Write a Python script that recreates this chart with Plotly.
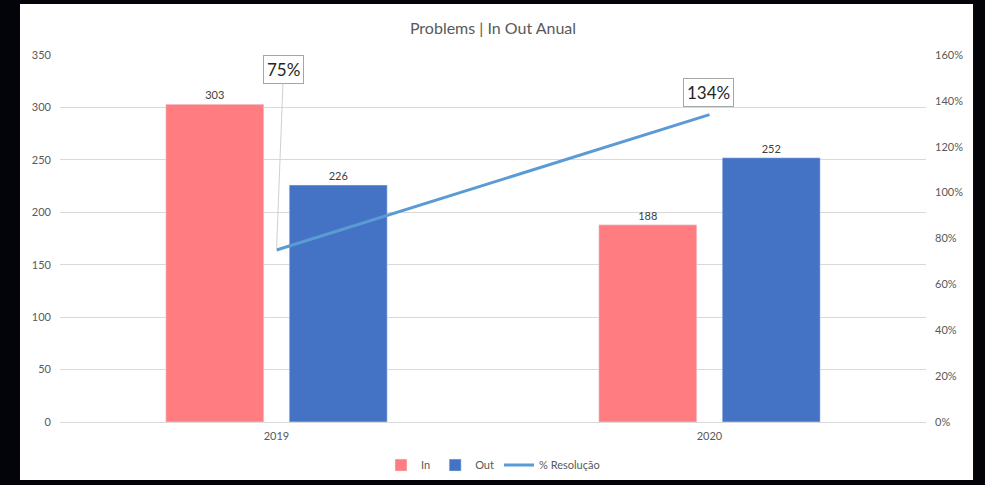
import plotly.graph_objects as go

categories = ["2019", "2020"]
in_values = [303, 188]
out_values = [226, 252]
pct_resolucao = [0.75, 1.34]
pct_labels = ["75%", "134%"]
left_ticks = [0, 50, 100, 150, 200, 250, 300, 350]
right_ticks = [0, 0.2, 0.4, 0.6, 0.8, 1.0, 1.2, 1.4, 1.6]
right_tick_labels = ["0%", "20%", "40%", "60%", "80%", "100%", "120%", "140%", "160%"]

FONT = "Lato, Open Sans, sans-serif"
GRAY = "#595959"

fig = go.Figure()
fig.add_trace(go.Bar(
    x=categories, y=in_values, name="In", marker_color="#FF7C80",
    text=[str(v) for v in in_values], textposition="outside",
    textfont=dict(size=11, color="#404040", family=FONT), cliponaxis=False))
fig.add_trace(go.Bar(
    x=categories, y=out_values, name="Out", marker_color="#4472C4",
    text=[str(v) for v in out_values], textposition="outside",
    textfont=dict(size=11, color="#404040", family=FONT), cliponaxis=False))
fig.add_trace(go.Scatter(
    x=categories, y=pct_resolucao, name="% Resolução", mode="lines",
    line=dict(color="#5B9BD5", width=3), yaxis="y2"))

offsets = [(7, -180, "#d0d0d0"), (-1, -22, "rgba(0,0,0,0)")]
for i, (val, lab, (ax, ay, ac)) in enumerate(zip(pct_resolucao, pct_labels, offsets)):
    fig.add_annotation(
        x=i, y=val, xref="x", yref="y2", text=lab, showarrow=True,
        ax=ax, ay=ay, arrowhead=0, arrowwidth=1, arrowcolor=ac,
        bgcolor="white", bordercolor="#a6a6a6", borderwidth=1, borderpad=3,
        font=dict(size=17, color="#262626", family=FONT))

fig.add_shape(type="rect", xref="paper", yref="paper",
              x0=-0.0462, x1=1.0543, y0=-0.158, y1=1.139,
              fillcolor="white", line=dict(width=0), layer="below")

fig.update_layout(
    width=985, height=485,
    margin=dict(l=60, r=59, t=55, b=63),
    paper_bgcolor="#03030a", plot_bgcolor="white",
    barmode="group", bargap=0.43, bargroupgap=0.206,
    title=dict(text="Problems | In Out Anual", x=0.5, xref="paper",
               y=0.942, yanchor="middle",
               font=dict(size=16, color=GRAY, family=FONT)),
    font=dict(family=FONT, color=GRAY, size=11),
    showlegend=True,
    legend=dict(orientation="h", x=0.5, xanchor="center", y=0.041, yref="container",
                yanchor="middle",
                font=dict(size=11, color=GRAY, family=FONT), bgcolor="rgba(0,0,0,0)",
                itemwidth=30),
    xaxis=dict(type="category", range=[-0.5, 1.5], showgrid=False, showline=False, ticks="",
               tickfont=dict(size=11, color=GRAY), ticklabelstandoff=6, automargin=False),
    yaxis=dict(range=[0, 350], tickvals=left_ticks, showgrid=True, gridcolor="#d9d9d9",
               zeroline=True, zerolinecolor="#d9d9d9", zerolinewidth=1, automargin=False,
               showline=False, ticks="", tickfont=dict(size=11, color=GRAY), ticklabelstandoff=8),
    yaxis2=dict(range=[0, 1.6], tickvals=right_ticks, ticktext=right_tick_labels,
                overlaying="y", side="right", showgrid=False, zeroline=False, automargin=False,
                showline=False, ticks="", tickfont=dict(size=11, color=GRAY), ticklabelstandoff=8),
)

fig.write_html("out.html")
